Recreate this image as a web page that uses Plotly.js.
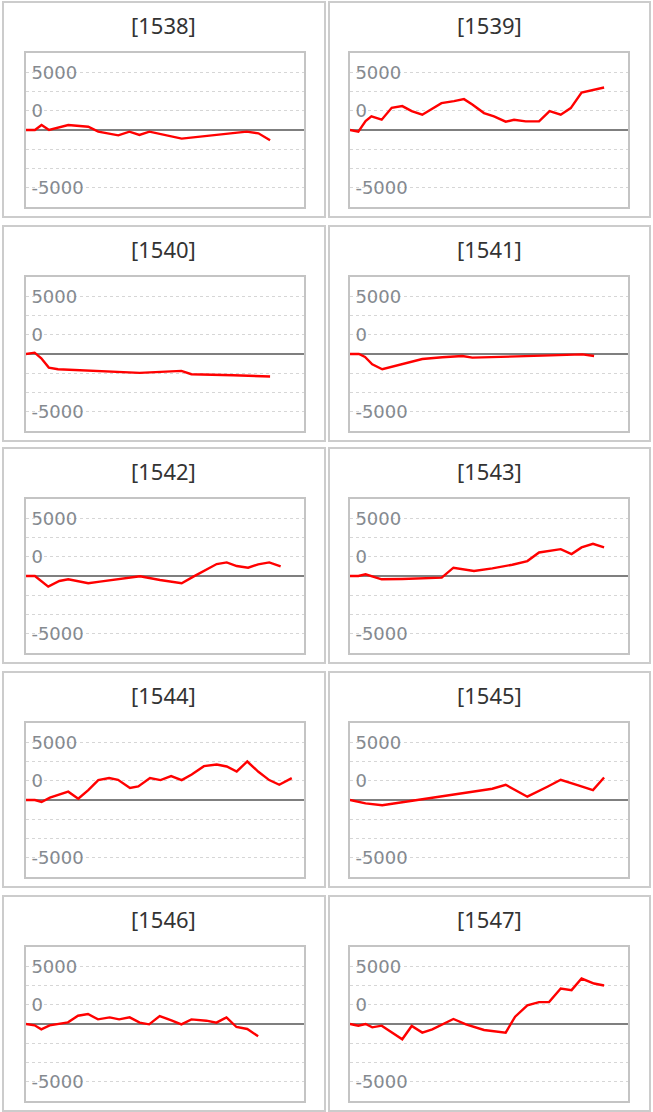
<!DOCTYPE html>
<html>
<head>
<meta charset="utf-8">
<script src="https://cdn.plot.ly/plotly-3.0.1.min.js"></script>
<style>
html,body{margin:0;padding:0;background:#fff;}
#chart{width:653px;height:1112px;}
</style>
</head>
<body>
<div id="chart"></div>
<script>
// Panel titles
const titles = ["[1538]","[1539]","[1540]","[1541]","[1542]","[1543]","[1544]","[1545]","[1546]","[1547]"];

// Y tick labels (as printed in the reference) and gridline positions
const tickVals = [-7500,-5000,-2500,0,2500,5000,7500];
const tickText = ["-5000","","","","0","","5000"];

// Series data (x: position along period, y: value)
const x1538 = [0,3.2,5.6,8.3,15.2,22.4,26.0,33.2,37.2,40.8,44.4,56.0,79.4,83.6,87.8];
const y1538 = [0,0,647,0,647,431,-216,-690,-216,-647,-216,-1121,-216,-431,-1336];

const x1539 = [0,3.0,5.6,7.7,11.4,15.0,18.8,22.2,26.0,29.4,32.9,37.4,41.0,44.0,48.2,51.8,56.0,59.0,63.2,68.0,71.8,75.8,79.4,83.3,91.4];
const y1539 = [0,-216,1164,1767,1336,2888,3103,2457,1983,2672,3491,3750,4009,3319,2198,1767,1078,1336,1121,1121,2457,1983,2845,4870,5517];

const x1540 = [0,3.1,5.5,8.2,11.5,26.5,40.9,55.9,59.5,74.5,87.8];
const y1540 = [0,172,-560,-1767,-1983,-2241,-2457,-2198,-2629,-2758,-2931];

const x1541 = [0,3.2,5.4,8.0,11.6,16.4,21.8,26.0,33.2,40.4,44.0,57.2,69.2,83.6,87.8];
const y1541 = [0,0,-388,-1336,-1983,-1552,-1121,-647,-431,-259,-474,-388,-216,-43,-259];

const x1542 = [0,3.2,8.0,12.0,15.2,22.4,26.6,33.8,41.0,48.2,56.0,60.2,65.0,68.6,72.2,75.8,79.9,83.5,87.5,91.6];
const y1542 = [0,0,-1379,-647,-431,-948,-733,-388,-43,-517,-948,-86,862,1552,1767,1293,1078,1509,1767,1250];

const x1543 = [0,3.0,5.6,11.4,18.8,27.2,33.0,37.2,44.6,51.2,58.4,63.8,68.0,75.8,79.7,83.3,87.4,91.4];
const y1543 = [0,0,216,-431,-388,-302,-216,1078,647,991,1465,1940,3060,3491,2845,3707,4181,3707];

const x1544 = [0,3.2,5.6,8.6,15.2,18.8,22.4,26.0,29.9,33.1,37.4,40.4,44.6,48.4,52.2,56.0,59.6,64.0,68.6,72.2,75.8,79.6,83.6,87.5,91.1,95.6];
const y1544 = [0,0,-259,302,1078,172,1293,2586,2845,2629,1552,1767,2845,2586,3103,2586,3319,4396,4612,4353,3707,5000,3664,2586,1983,2845];

const x1545 = [0,5.6,11.6,20.0,29.6,41.6,51.2,56.0,63.8,71.0,75.8,82.4,87.4,91.4];
const y1545 = [0,-431,-690,-216,259,905,1465,1983,431,1724,2629,1853,1293,2931];

const x1546 = [0,3.1,5.5,8.5,15.1,18.7,22.3,25.9,30.1,33.5,37.3,40.9,44.3,48.1,52.3,55.9,59.5,64.9,68.5,72.1,75.7,79.6,83.5];
const y1546 = [0,-172,-690,-172,216,1078,1293,603,862,603,862,172,-43,1034,474,-43,603,431,172,862,-388,-647,-1595];

const x1547 = [0,3.0,5.6,8.0,11.4,18.8,22.2,26.0,29.6,33.2,37.2,41.7,48.2,56.0,59.4,63.8,68.0,71.6,75.8,79.7,83.3,87.8,91.4];
const y1547 = [0,-216,0,-431,-216,-1983,-259,-1121,-690,-43,647,-43,-776,-1121,948,2414,2845,2845,4612,4396,5905,5258,5000];

const seriesX = [x1538,x1539,x1540,x1541,x1542,x1543,x1544,x1545,x1546,x1547];
const seriesY = [y1538,y1539,y1540,y1541,y1542,y1543,y1544,y1545,y1546,y1547];

const W = 653, H = 1112;
const panelLeft = [3, 329];
const panelRight = [325, 650];
const plotLeft = [26, 350];
const plotW = 278;
const rowTop = [2, 226, 448, 672, 896];
const panelH = 215;
const plotOffY = 51, plotH = 154;

const data = [];
const layout = {
  width: W, height: H,
  margin: {l:0, r:0, t:0, b:0},
  paper_bgcolor: '#fff',
  plot_bgcolor: '#fff',
  showlegend: false,
  shapes: [],
  annotations: []
};

for (let i = 0; i < titles.length; i++) {
  const r = Math.floor(i / 2), c = i % 2;
  const n = i + 1;
  const xa = n === 1 ? 'xaxis' : 'xaxis' + n;
  const ya = n === 1 ? 'yaxis' : 'yaxis' + n;
  const xr = n === 1 ? 'x' : 'x' + n;
  const yr = n === 1 ? 'y' : 'y' + n;
  const top = rowTop[r];
  const pTop = top + plotOffY;
  layout[xa] = {
    domain: [plotLeft[c] / W, (plotLeft[c] + plotW) / W],
    range: [0, 100],
    anchor: yr,
    showgrid: false, zeroline: false, showticklabels: false, ticks: '',
    showline: true, mirror: true, linecolor: '#c4c4c4', linewidth: 2,
    fixedrange: true
  };
  layout[ya] = {
    domain: [1 - (pTop + plotH) / H, 1 - pTop / H],
    range: [-10000, 10000],
    anchor: xr,
    tickmode: 'array',
    tickvals: tickVals,
    ticktext: tickText,
    ticks: '',
    ticklabelposition: 'inside',
    ticklabelstandoff: 6,
    tickfont: {family: 'DejaVu Sans, Verdana, sans-serif', size: 18, color: '#858a90'},
    showgrid: true, gridcolor: '#d6d6d6', griddash: 'dot', gridwidth: 1,
    zeroline: true, zerolinecolor: '#7f7f7f', zerolinewidth: 2,
    showline: true, mirror: true, linecolor: '#c4c4c4', linewidth: 2,
    fixedrange: true
  };
  data.push({
    type: 'scatter', mode: 'lines',
    x: seriesX[i], y: seriesY[i],
    xaxis: xr, yaxis: yr,
    line: {color: '#ff0000', width: 2.4},
    hoverinfo: 'skip'
  });
  layout.shapes.push({
    type: 'rect', xref: 'paper', yref: 'paper',
    x0: panelLeft[c] / W, x1: panelRight[c] / W,
    y0: 1 - (top + panelH) / H, y1: 1 - top / H,
    line: {color: '#cccccc', width: 2},
    fillcolor: 'rgba(0,0,0,0)', layer: 'below'
  });
  layout.annotations.push({
    xref: 'paper', yref: 'paper',
    x: (panelLeft[c] + panelRight[c]) / 2 / W,
    y: 1 - (top + 23) / H,
    xanchor: 'center', yanchor: 'middle',
    text: titles[i], showarrow: false,
    font: {family: 'Noto Sans', size: 22, color: '#333333'}
  });
}

Plotly.newPlot('chart', data, layout, {staticPlot: true, displayModeBar: false});
</script>
</body>
</html>
